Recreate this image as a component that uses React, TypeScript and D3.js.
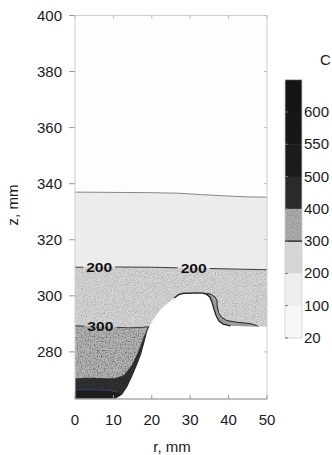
import React from "react";
import * as d3 from "d3";

type P = [number, number];

// ---- data (r mm, z mm) ----
const xTicks = [0, 10, 20, 30, 40, 50];
const yTicks = [280, 300, 320, 340, 360, 380, 400];
const zMin = 263.2;
const zMax = 400;

const cbLabels = ["600", "550", "500", "400", "300", "200", "100", "20"];
const cbColors = ["#151515", "#171717", "#1b1b1b", "#2e2e2e", "#adadad", "#d6d6d6", "#eeeeee", "#f7f7f7"];

const contour100: P[] = [[0, 337.0], [10, 336.9], [20, 336.8], [27, 336.6], [33, 336.1], [40, 335.6], [45, 335.3], [50, 335.2]];
const contour200: P[] = [[0, 310.2], [10, 310.3], [20, 310.2], [30, 309.9], [40, 309.6], [50, 309.3]];
const contour300: P[] = [[0, 289.3], [5, 289.1], [10, 288.8], [14, 288.6], [17, 288.7], [19.3, 289.0]];
const contour400: P[] = [[0, 270.6], [4, 270.8], [8, 270.6], [10.5, 270.6], [12.8, 271.8], [14.9, 275.5], [16.6, 280.5], [17.9, 285.3], [18.9, 288.7]];
const contour500: P[] = [[0, 266.4], [5, 266.5], [9, 266.3], [11.2, 265.6], [12.3, 264.4], [12.8, 263.2]];

const moldEdge: P[] = [
  [10.4, 263.2], [12.3, 264.8], [13.6, 267.5], [14.8, 271], [16, 274.8], [17.2, 279], [18.1, 283.5],
  [18.8, 287.3], [19.4, 289.2], [20.3, 291.4], [21.4, 293.6], [22.8, 295.8], [24.4, 297.6], [25.8, 299.2],
  [27, 300.4], [28.3, 300.9], [31, 301], [33.3, 301], [34.3, 300.5], [35.1, 299.6], [35.7, 297.6],
  [36.2, 295.2], [36.8, 292.8], [37.5, 291], [38.6, 289.9], [40.5, 289.3], [45, 289.1], [50, 289.0],
];
const leftFringe: P[] = [[19.4, 289.2], [20.0, 289.8], [21.0, 292.0], [22.2, 294.3], [23.6, 296.5], [25.0, 298.3], [26.4, 300.0], [27.6, 301.2], [30, 301.4], [33, 301.5], [34.4, 301.1]];
const rightFringe: P[] = [[34.5, 300.9], [35.6, 300.4], [36.5, 299.5], [37.0, 298.3], [37.0, 296.4], [37.4, 294], [38.2, 292.3], [39.5, 291.2], [42, 290.6], [45, 290.2], [46.5, 289.8], [47.4, 289.3], [47.8, 289.0]];

const contourLabels: { text: string; r: number; z: number }[] = [
  { text: "200", r: 6.3, z: 310.2 },
  { text: "200", r: 30.9, z: 309.9 },
  { text: "300", r: 6.6, z: 289.2 },
];

const FONT = "'Liberation Sans', Arial, Helvetica, sans-serif";

export default function App() {
  const x = d3.scaleLinear().domain([0, 50]).range([75, 267]);
  const y = d3.scaleLinear().domain([zMin, zMax]).range([399, 15.5]);
  const line = d3.line<P>().x((d) => x(d[0])).y((d) => y(d[1]));
  const poly = (pts: P[]) => (line(pts) || "") + "Z";

  const cb = d3.scalePoint<string>().domain(cbLabels).range([112, 338]);
  const step = cb.step();
  const cbX = 285;
  const cbW = 17;

  const labelBoxes = contourLabels.map((l) => ({ cx: x(l.r), cy: y(l.z) }));

  const [x0, x1] = x.range();
  const yTop = y(zMax);
  const yBot = y(zMin);

  return (
    <svg width={332} height={455} style={{ position: "absolute", left: 0, top: 0, background: "#fff" }}>
      <defs>
        <filter id="grainStrong" x="0" y="0" width="1" height="1">
          <feTurbulence type="fractalNoise" baseFrequency="0.75" numOctaves="2" seed="4" result="noise" />
          <feColorMatrix in="noise" type="matrix" values="0 0 0 0 0  0 0 0 0 0  0 0 0 0 0  1.9 0 0 0 -0.82" result="dots" />
          <feComposite in="dots" in2="SourceGraphic" operator="in" result="clipped" />
          <feMerge>
            <feMergeNode in="SourceGraphic" />
            <feMergeNode in="clipped" />
          </feMerge>
        </filter>
        <filter id="grainLight" x="0" y="0" width="1" height="1">
          <feTurbulence type="fractalNoise" baseFrequency="0.9" numOctaves="2" seed="9" result="noise" />
          <feColorMatrix in="noise" type="matrix" values="0 0 0 0 0  0 0 0 0 0  0 0 0 0 0  1.0 0 0 0 -0.42" result="dots" />
          <feComposite in="dots" in2="SourceGraphic" operator="in" result="clipped" />
          <feMerge>
            <feMergeNode in="SourceGraphic" />
            <feMergeNode in="clipped" />
          </feMerge>
        </filter>
        <mask id="lblMask">
          <rect x={0} y={0} width={332} height={455} fill="white" />
          {labelBoxes.map((b, i) => (
            <rect key={i} x={b.cx - 16} y={b.cy - 7} width={32} height={14} fill="black" />
          ))}
        </mask>
        <clipPath id="plotClip">
          <rect x={x0} y={yTop} width={x1 - x0} height={yBot - yTop} />
        </clipPath>
      </defs>

      {/* regions */}
      <g clipPath="url(#plotClip)">
        <rect x={x0} y={yTop} width={x1 - x0} height={yBot - yTop} fill="#fdfdfd" />
        <path d={poly([...contour100, [50, zMin], [0, zMin]])} fill="#ececec" />
        <path d={poly([...contour200, [50, zMin], [0, zMin]])} fill="#d5d5d5" filter="url(#grainLight)" />
        <path d={poly([...contour300, [22, zMin], [0, zMin]])} fill="#b4b4b4" filter="url(#grainStrong)" />
        <path d={poly([...contour400, [19.3, 289], [22, zMin], [0, zMin]])} fill="#333" filter="url(#grainLight)" />
        <path d={poly([...contour500, [0, zMin]])} fill="#1c1c1c" />
        <path d={line(contour500.slice(0, 4)) || ""} fill="none" stroke="#35407a" strokeWidth={1} />
        <path d={poly([...leftFringe, [36, zMin], [19, zMin]])} fill="#a4a4a4" />
        <path d={poly([...rightFringe, [48, zMin], [34, zMin]])} fill="#9c9c9c" stroke="#222" strokeWidth={1} />
        <path d={poly([...moldEdge, [50, zMin]])} fill="#ffffff" />
        <path d={line(moldEdge.slice(13, 21)) || ""} fill="none" stroke="#1e1e1e" strokeWidth={1.3} />
        <path d={line(moldEdge.slice(20, 26)) || ""} fill="none" stroke="#1e1e1e" strokeWidth={1.3} />
        <path d={line(contour100) || ""} fill="none" stroke="#7a7a7a" strokeWidth={0.9} />
        <g mask="url(#lblMask)">
          <path d={line(contour200) || ""} fill="none" stroke="#2a2a2a" strokeWidth={0.9} />
          <path d={line(contour300) || ""} fill="none" stroke="#2a2a2a" strokeWidth={0.9} />
        </g>
      </g>

      {contourLabels.map((l, i) => (
        <text key={i} x={x(l.r)} y={y(l.z) + 4.8} textAnchor="middle" fontFamily={FONT} fontWeight="bold" fontSize={13.5} fill="#111" textLength={26} lengthAdjust="spacingAndGlyphs">
          {l.text}
        </text>
      ))}

      {/* frame */}
      <rect x={x0} y={yTop} width={x1 - x0} height={yBot - yTop} fill="none" stroke="#cfcfcf" strokeWidth={1} />
      <line x1={x0} x2={x1} y1={yBot} y2={yBot} stroke="#9a9a9a" strokeWidth={1} />

      {/* y axis */}
      {yTicks.map((t) => (
        <g key={t}>
          <line x1={x0 - 6} x2={x0} y1={y(t)} y2={y(t)} stroke="#999" strokeWidth={1} />
          <line x1={x1 - 3} x2={x1} y1={y(t)} y2={y(t)} stroke="#bbb" strokeWidth={1} />
          <text x={62} y={y(t) + 5} textAnchor="end" fontFamily={FONT} fontSize={15} fill="#1a1a1a">
            {t}
          </text>
        </g>
      ))}
      {/* x axis */}
      {xTicks.map((t) => (
        <g key={t}>
          <line x1={x(t)} x2={x(t)} y1={yBot} y2={yBot - 4} stroke="#999" strokeWidth={1} />
          <line x1={x(t)} x2={x(t)} y1={yTop} y2={yTop + 3} stroke="#bbb" strokeWidth={1} />
          <text x={x(t)} y={425} textAnchor="middle" fontFamily={FONT} fontSize={15} fill="#1a1a1a">
            {t}
          </text>
        </g>
      ))}
      <text x={172} y={452} textAnchor="middle" fontFamily={FONT} fontSize={15} fill="#1a1a1a">
        r, mm
      </text>
      <text transform={`translate(18,205) rotate(-90)`} textAnchor="middle" fontFamily={FONT} fontSize={15} fill="#1a1a1a">
        z, mm
      </text>

      {/* colorbar */}
      {cbLabels.map((lab, i) => (
        <rect key={lab} x={cbX} y={(cb(lab) as number) - step} width={cbW} height={step + 0.5} fill={cbColors[i]} filter={i === 3 || i === 4 ? "url(#grainLight)" : undefined} />
      ))}
      <rect x={cbX} y={(cb(cbLabels[0]) as number) - step} width={cbW} height={338 - ((cb(cbLabels[0]) as number) - step)} fill="none" stroke="#d0d0d0" strokeWidth={0.8} />
      <line x1={cbX} x2={cbX + cbW} y1={cb("300") as number} y2={cb("300") as number} stroke="#111" strokeWidth={1.2} />
      {cbLabels.map((lab) => (
        <g key={lab}>
          <line x1={cbX} x2={cbX + 3} y1={cb(lab) as number} y2={cb(lab) as number} stroke="#777" strokeWidth={1} />
          <text x={304} y={(cb(lab) as number) + 5} fontFamily={FONT} fontSize={15} fill="#1a1a1a">
            {lab}
          </text>
        </g>
      ))}
      <text x={320} y={65} fontFamily={FONT} fontSize={15} fill="#1a1a1a">
        C
      </text>
    </svg>
  );
}
